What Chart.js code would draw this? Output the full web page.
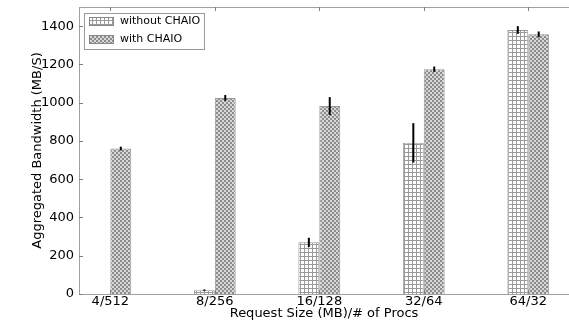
<!DOCTYPE html>
<html>
<head>
<meta charset="utf-8">
<script src="https://cdn.jsdelivr.net/npm/chart.js@4/dist/chart.umd.min.js"></script>
<style>
html,body{margin:0;padding:0;background:#fff;}
#wrap{width:569px;height:324px;}
</style>
</head>
<body>
<div id="wrap"><canvas id="c" width="569" height="324"></canvas></div>
<script>
const categories = ["4/512", "8/256", "16/128", "32/64", "64/32"];
const withoutChaio = [0, 20, 270, 790, 1380];
const withoutErr = [0, 4, 24, 103, 20];
const withChaio = [760, 1025, 982, 1175, 1357];
const withErr = [10, 15, 47, 14, 15];
const yTicks = [0, 200, 400, 600, 800, 1000, 1200, 1400];
const seriesNames = ["without CHAIO", "with CHAIO"];

function gridPattern() {
  const c = document.createElement('canvas');
  c.width = 4; c.height = 4;
  const x = c.getContext('2d');
  x.fillStyle = '#ffffff'; x.fillRect(0,0,4,4);
  x.fillStyle = '#9a9a9a';
  x.fillRect(0,0,4,1);
  x.fillRect(0,0,1,4);
  return x.createPattern(c, 'repeat');
}
function crossPattern() {
  const c = document.createElement('canvas');
  c.width = 4; c.height = 4;
  const x = c.getContext('2d');
  x.fillStyle = '#ffffff'; x.fillRect(0,0,4,4);
  x.fillStyle = '#8c8c8c';
  x.fillRect(0,0,2,2);
  x.fillRect(2,2,2,2);
  x.fillStyle = '#d8d8d8';
  x.fillRect(2,0,2,2);
  x.fillRect(0,2,2,2);
  return x.createPattern(c, 'repeat');
}
const patA = gridPattern();
const patB = crossPattern();
const errs = [withoutErr, withErr];

const errorBars = {
  id: 'errorBars',
  afterDatasetsDraw(chart) {
    const ctx = chart.ctx;
    const ys = chart.scales.y;
    ctx.save();
    ctx.strokeStyle = '#000';
    ctx.lineWidth = 2;
    chart.data.datasets.forEach((ds, di) => {
      const meta = chart.getDatasetMeta(di);
      meta.data.forEach((bar, i) => {
        const v = ds.data[i].y, e = errs[di][i];
        if (!e) return;
        const y1 = ys.getPixelForValue(v + e), y2 = ys.getPixelForValue(v - e);
        ctx.beginPath();
        ctx.moveTo(bar.x, y1); ctx.lineTo(bar.x, y2);
        ctx.stroke();
      });
    });
    ctx.restore();
  }
};

const frame = {
  id: 'frame',
  afterDraw(chart) {
    const ctx = chart.ctx, a = chart.chartArea;
    ctx.save();
    ctx.strokeStyle = '#a0a0a0';
    ctx.lineWidth = 1;
    ctx.beginPath();
    ctx.moveTo(a.left, a.top + 0.5); ctx.lineTo(a.right, a.top + 0.5);
    ctx.stroke();
    // inner ticks
    ctx.strokeStyle = '#808080';
    const xs = chart.scales.x, ys = chart.scales.y;
    [0,1,2,3,4].forEach(v => {
      const px = Math.round(xs.getPixelForValue(v)) + 0.5;
      ctx.beginPath();
      ctx.moveTo(px, a.top); ctx.lineTo(px, a.top + 4);
      ctx.moveTo(px, a.bottom); ctx.lineTo(px, a.bottom - 4);
      ctx.stroke();
    });
    yTicks.forEach(v => {
      const py = Math.round(ys.getPixelForValue(v)) + 0.5;
      ctx.beginPath();
      ctx.moveTo(a.left, py); ctx.lineTo(a.left + 4, py);
      ctx.stroke();
    });
    // legend
    const lx = 84, ly = 13, lw = 120, lh = 36;
    ctx.fillStyle = '#fff';
    ctx.fillRect(lx, ly, lw, lh);
    ctx.strokeStyle = '#999';
    ctx.strokeRect(lx + 0.5, ly + 0.5, lw, lh);
    ctx.font = '11px "DejaVu Sans"';
    ctx.textBaseline = 'middle';
    [patA, patB].forEach((p, i) => {
      const yy = ly + 8 + i * 18;
      ctx.fillStyle = p;
      ctx.fillRect(lx + 5, yy - 4, 24, 8);
      ctx.strokeStyle = '#888';
      ctx.strokeRect(lx + 5.5, yy - 3.5, 24, 8);
      ctx.fillStyle = '#000';
      ctx.fillText(seriesNames[i], lx + 36, yy + 0.5);
    });
    ctx.restore();
  }
};

new Chart(document.getElementById('c'), {
  type: 'bar',
  data: {
    datasets: [
      { label: seriesNames[0], data: withoutChaio.map((v, i) => ({x: i, y: v})),
        backgroundColor: patA, borderColor: '#999', borderWidth: 1 },
      { label: seriesNames[1], data: withChaio.map((v, i) => ({x: i, y: v})),
        backgroundColor: patB, borderColor: '#999', borderWidth: 1 }
    ]
  },
  options: {
    responsive: false,
    animation: false,
    devicePixelRatio: 1,
    layout: { padding: { top: 7, right: 0, left: 0, bottom: 0 } },
    datasets: { bar: { categoryPercentage: 0.4, barPercentage: 1.0, borderSkipped: 'bottom' } },
    plugins: { legend: { display: false }, tooltip: { enabled: false } },
    scales: {
      x: {
        type: 'linear', offset: false, min: -0.3, max: 4.39,
        afterBuildTicks: s => { s.ticks = [0,1,2,3,4].map(v => ({value: v})); },
        afterFit: s => { s.height = 30; s.paddingLeft = 0; s.paddingRight = 0; },
        ticks: { callback: v => categories[v], autoSkip: false, maxRotation: 0, padding: 0,
                 color: '#000', font: { family: 'DejaVu Sans', size: 13 } },
        grid: { display: false, drawTicks: false },
        border: { color: '#a0a0a0' },
        title: { display: true, text: 'Request Size (MB)/# of Procs', color: '#000',
                 font: { family: 'DejaVu Sans', size: 13 }, padding: { top: -8, bottom: 3 } }
      },
      y: {
        min: 0, max: 1500,
        afterBuildTicks: s => { s.ticks = yTicks.map(v => ({value: v})); },
        afterFit: s => { s.width = 79; s.paddingTop = 0; s.paddingBottom = 0; },
        ticks: { callback: v => String(v), color: '#000', padding: 5, font: { family: 'DejaVu Sans', size: 13 } },
        grid: { display: false, drawTicks: false },
        border: { color: '#a0a0a0' },
        title: { display: true, text: 'Aggregated Bandwidth (MB/S)', color: '#000',
                 font: { family: 'DejaVu Sans', size: 13 }, padding: { top: 30, bottom: 0 } }
      }
    }
  },
  plugins: [errorBars, frame]
});
</script>
</body>
</html>
